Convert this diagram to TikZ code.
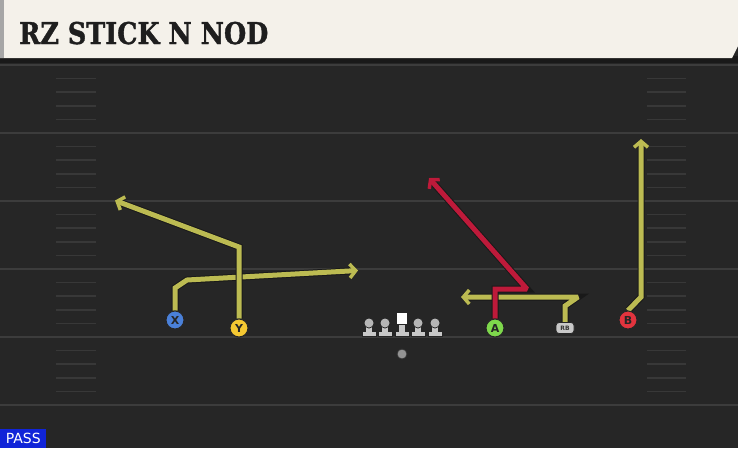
\documentclass[tikz,border=0pt]{standalone}
\usepackage{fontspec}
\setmainfont{DejaVu Sans}
\newfontfamily\titlefont[FakeStretch=0.85,BoldFont={DejaVu Serif Bold},BoldFeatures={FakeBold=1.2}]{DejaVu Serif}
\usetikzlibrary{arrows.meta}
\pgfdeclarelayer{fieldlayer}
\pgfdeclarelayer{routelayer}
\pgfsetlayers{fieldlayer,routelayer,main}
\definecolor{fieldbg}{HTML}{262626}
\definecolor{fieldline}{HTML}{3C3C3C}
\definecolor{hashc}{HTML}{383838}
\definecolor{headerc}{HTML}{F4F1EA}
\definecolor{titlec}{HTML}{1E1E1E}
\definecolor{routey}{HTML}{BCBB52}
\definecolor{router}{HTML}{BE1A3A}
\definecolor{pblue}{HTML}{4A80D8}
\definecolor{pyellow}{HTML}{F5C832}
\definecolor{pgreen}{HTML}{7ED84C}
\definecolor{pred}{HTML}{E2343E}
\definecolor{pgray}{HTML}{C8C8C8}
\definecolor{passblue}{HTML}{1024D8}
\tikzset{
  routebase/.style={line width=5pt, line join=miter, miter limit=2, line cap=butt,
    preaction={draw=black!90, line width=7pt},
    -{Straight Barb[length=6pt,width=14pt,line width=3.5pt]}},
  yroute/.style={routebase, draw=routey},
  rroute/.style={routebase, draw=router},
  player/.style={circle, draw=black!85, line width=1pt, minimum size=18pt, inner sep=0pt,
    font=\bfseries\fontsize{11}{11}\selectfont, text=black!85},
  rbbox/.style={rounded corners=3pt, draw=black!85, line width=0.8pt, fill=pgray,
    minimum width=18pt, minimum height=11pt, inner sep=0pt,
    font=\bfseries\fontsize{6}{6}\selectfont, text=black!80},
  fieldln/.style={draw=fieldline, line width=2pt},
  hashln/.style={draw=hashc, line width=1.5pt},
  lineman/.pic={
    \fill[black!85] (-7.5,-5.5) rectangle (7.5,0.8);
    \fill[pgray] (-6.5,-4.5) rectangle (6.5,0);
    \fill[black!85] (-4,-12) rectangle (4,-4);
    \fill[pgray] (-3,-12) rectangle (3,-4.5);
    \fill[black!85] (0,-13) circle (5.5);
    \fill[pgray!75!gray] (0,-13) circle (4.5);
  },
  centerman/.pic={
    \fill[black!85] (-7.5,-5.5) rectangle (7.5,0.8);
    \fill[pgray] (-6.5,-4.5) rectangle (6.5,0);
    \fill[black!85] (-4,-12) rectangle (4,-4);
    \fill[pgray] (-3,-12) rectangle (3,-4.5);
    \fill[black!85] (-6,-24) rectangle (6,-11.5);
    \fill[white] (-5,-23) rectangle (5,-12.5);
  }
}
\begin{document}
\begin{tikzpicture}[x=1pt,y=-1pt]
\useasboundingbox (0,0) rectangle (738,448);
\begin{pgfonlayer}{fieldlayer}
\fill[fieldbg] (0,0) rectangle (738,448);
\foreach \yy in {65,133,201,269,337,405} {
  \draw[fieldln] (0,\yy) -- (738,\yy);
}
\foreach \yy in {65,133,201,269,337} {
  \foreach \k in {1,2,3,4} {
    \draw[hashln] (56,\yy+13.6*\k) -- (96,\yy+13.6*\k);
    \draw[hashln] (647,\yy+13.6*\k) -- (686,\yy+13.6*\k);
  }
}
\fill[black!90] (0,56) rectangle (738,63);
\fill[headerc] (0,0) -- (738,0) -- (738,46) -- (732,58) -- (0,58) -- cycle;
\fill[black!35] (0,0) rectangle (4,58);
\end{pgfonlayer}
\node[anchor=base west, inner sep=0pt, text=titlec, font=\titlefont\bfseries\fontsize{30}{30}\selectfont] (title) at (19,44) {RZ STICK N NOD};
\node[fill=passblue, text=white, anchor=south west, minimum width=46pt, minimum height=19pt, inner sep=0pt,
  font=\fontsize{14}{14}\selectfont] (pass) at (0,448) {PASS};
% linemen
\pic at (369,336) {lineman};
\pic at (385,336) {lineman};
\pic at (402,336) {centerman};
\pic at (418,336) {lineman};
\pic at (435,336) {lineman};
\node[circle, fill=gray!85, draw=black!80, line width=0.8pt, minimum size=10pt, inner sep=0pt] (qb) at (402,354) {};
% players
\node[player, fill=pblue] (X) at (175,320) {X};
\node[player, fill=pyellow] (Y) at (239,328) {Y};
\node[player, fill=pgreen] (A) at (495,328) {A};
\node[rbbox] (RB) at (565,328) {RB};
\node[player, fill=pred] (B) at (628,320) {B};
% route end points
\coordinate (xtip) at (358,270.5);
\coordinate (ytip) at (115,200.5);
\coordinate (atip) at (429,178);
\coordinate (rbtip) at (461,297);
\coordinate (btip) at (641,139);
\begin{pgfonlayer}{routelayer}
\draw[yroute] (X.north) -- (175,288) -- (187,280) -- (xtip);
\draw[yroute] (Y.north) -- (239,247) -- (ytip);
\draw[yroute] (RB.north) -- (565,306) -- (578,297) -- (rbtip);
\draw[rroute] (A.north) -- (495,289) -- (527,289) -- (atip);
\draw[yroute] (B.north) -- (641,297) -- (btip);
\end{pgfonlayer}
\end{tikzpicture}
\end{document}
